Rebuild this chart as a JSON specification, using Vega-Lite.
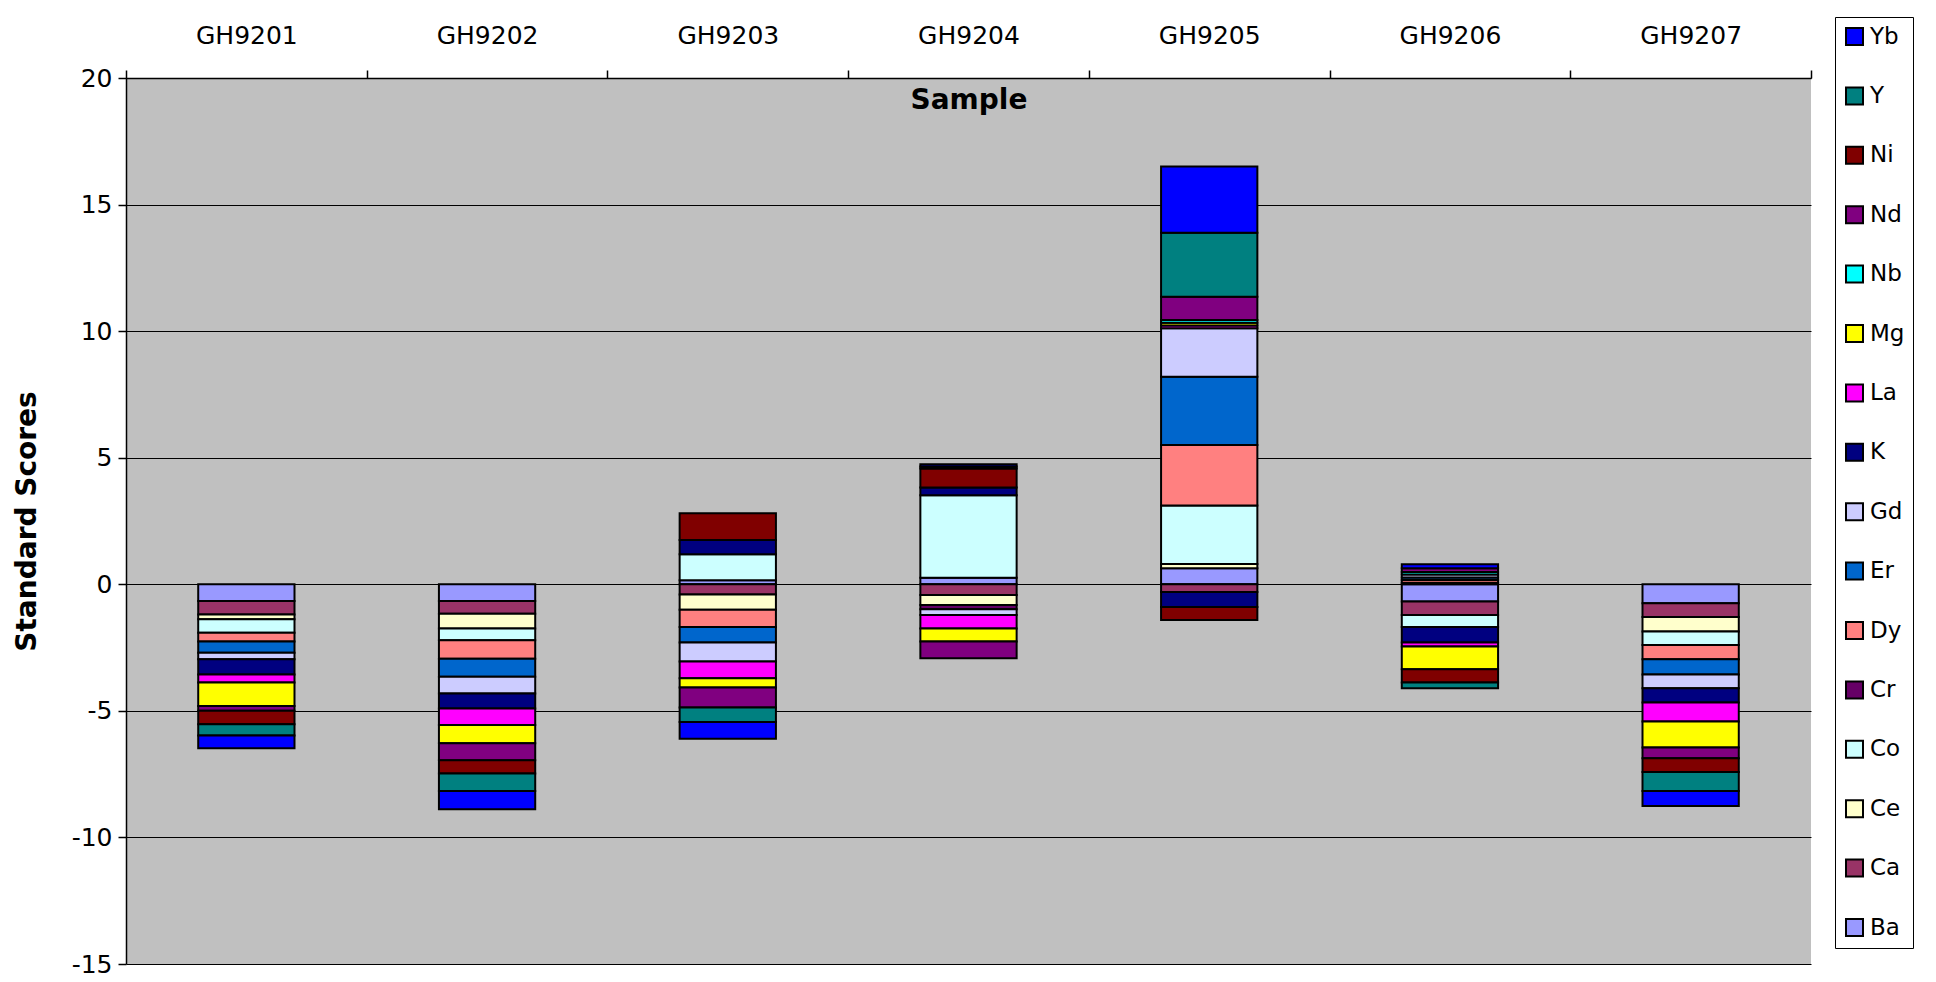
{
  "$schema": "https://vega.github.io/schema/vega-lite/v6.json",
  "width": 1685,
  "height": 886,
  "autosize": {"type": "none"},
  "padding": {"left": 126, "top": 78, "right": 125, "bottom": 18},
  "background": "white",
  "config": {
    "view": {"fill": "#C0C0C0", "stroke": null},
    "font": "DejaVu Sans",
    "axis": {"labelColor": "black", "titleColor": "black", "domainColor": "black", "tickColor": "black", "domainWidth": 1.5, "tickWidth": 1.5}
  },
  "data": {
    "values": [
      {"sample": "GH9201", "element": "Ba", "score": -0.66},
      {"sample": "GH9201", "element": "Ca", "score": -0.53},
      {"sample": "GH9201", "element": "Ce", "score": -0.19},
      {"sample": "GH9201", "element": "Co", "score": -0.53},
      {"sample": "GH9201", "element": "Dy", "score": -0.35},
      {"sample": "GH9201", "element": "Er", "score": -0.44},
      {"sample": "GH9201", "element": "Gd", "score": -0.26},
      {"sample": "GH9201", "element": "K", "score": -0.60},
      {"sample": "GH9201", "element": "La", "score": -0.32},
      {"sample": "GH9201", "element": "Mg", "score": -0.93},
      {"sample": "GH9201", "element": "Nd", "score": -0.19},
      {"sample": "GH9201", "element": "Ni", "score": -0.53},
      {"sample": "GH9201", "element": "Y", "score": -0.44},
      {"sample": "GH9201", "element": "Yb", "score": -0.51},

      {"sample": "GH9202", "element": "Ba", "score": -0.66},
      {"sample": "GH9202", "element": "Ca", "score": -0.50},
      {"sample": "GH9202", "element": "Ce", "score": -0.59},
      {"sample": "GH9202", "element": "Co", "score": -0.46},
      {"sample": "GH9202", "element": "Dy", "score": -0.73},
      {"sample": "GH9202", "element": "Er", "score": -0.71},
      {"sample": "GH9202", "element": "Gd", "score": -0.66},
      {"sample": "GH9202", "element": "K", "score": -0.60},
      {"sample": "GH9202", "element": "La", "score": -0.65},
      {"sample": "GH9202", "element": "Mg", "score": -0.72},
      {"sample": "GH9202", "element": "Nd", "score": -0.67},
      {"sample": "GH9202", "element": "Ni", "score": -0.52},
      {"sample": "GH9202", "element": "Y", "score": -0.70},
      {"sample": "GH9202", "element": "Yb", "score": -0.72},

      {"sample": "GH9203", "element": "Ba", "score": 0.16},
      {"sample": "GH9203", "element": "Ca", "score": -0.40},
      {"sample": "GH9203", "element": "Ce", "score": -0.61},
      {"sample": "GH9203", "element": "Co", "score": 1.03},
      {"sample": "GH9203", "element": "Dy", "score": -0.68},
      {"sample": "GH9203", "element": "Er", "score": -0.61},
      {"sample": "GH9203", "element": "Gd", "score": -0.75},
      {"sample": "GH9203", "element": "K", "score": 0.56},
      {"sample": "GH9203", "element": "La", "score": -0.66},
      {"sample": "GH9203", "element": "Mg", "score": -0.37},
      {"sample": "GH9203", "element": "Nd", "score": -0.79},
      {"sample": "GH9203", "element": "Ni", "score": 1.06},
      {"sample": "GH9203", "element": "Y", "score": -0.57},
      {"sample": "GH9203", "element": "Yb", "score": -0.66},

      {"sample": "GH9204", "element": "Ba", "score": 0.26},
      {"sample": "GH9204", "element": "Ca", "score": -0.42},
      {"sample": "GH9204", "element": "Ce", "score": -0.40},
      {"sample": "GH9204", "element": "Co", "score": 3.26},
      {"sample": "GH9204", "element": "Cr", "score": -0.17},
      {"sample": "GH9204", "element": "Gd", "score": -0.22},
      {"sample": "GH9204", "element": "K", "score": 0.30},
      {"sample": "GH9204", "element": "La", "score": -0.54},
      {"sample": "GH9204", "element": "Mg", "score": -0.51},
      {"sample": "GH9204", "element": "Nd", "score": -0.66},
      {"sample": "GH9204", "element": "Ni", "score": 0.75},
      {"sample": "GH9204", "element": "Y", "score": 0.08},
      {"sample": "GH9204", "element": "Yb", "score": 0.09},

      {"sample": "GH9205", "element": "Ba", "score": 0.63},
      {"sample": "GH9205", "element": "Ca", "score": -0.30},
      {"sample": "GH9205", "element": "Ce", "score": 0.17},
      {"sample": "GH9205", "element": "Co", "score": 2.31},
      {"sample": "GH9205", "element": "Dy", "score": 2.39},
      {"sample": "GH9205", "element": "Er", "score": 2.70},
      {"sample": "GH9205", "element": "Gd", "score": 1.91},
      {"sample": "GH9205", "element": "K", "score": -0.60},
      {"sample": "GH9205", "element": "La", "score": 0.11},
      {"sample": "GH9205", "element": "Mg", "score": 0.11},
      {"sample": "GH9205", "element": "Nb", "score": 0.11},
      {"sample": "GH9205", "element": "Nd", "score": 0.92},
      {"sample": "GH9205", "element": "Ni", "score": -0.51},
      {"sample": "GH9205", "element": "Y", "score": 2.53},
      {"sample": "GH9205", "element": "Yb", "score": 2.61},

      {"sample": "GH9206", "element": "Ba", "score": -0.68},
      {"sample": "GH9206", "element": "Ca", "score": -0.53},
      {"sample": "GH9206", "element": "Co", "score": -0.48},
      {"sample": "GH9206", "element": "Cr", "score": 0.06},
      {"sample": "GH9206", "element": "Dy", "score": 0.11},
      {"sample": "GH9206", "element": "Er", "score": 0.10},
      {"sample": "GH9206", "element": "Gd", "score": 0.12},
      {"sample": "GH9206", "element": "K", "score": -0.61},
      {"sample": "GH9206", "element": "La", "score": -0.16},
      {"sample": "GH9206", "element": "Mg", "score": -0.90},
      {"sample": "GH9206", "element": "Nb", "score": 0.10},
      {"sample": "GH9206", "element": "Nd", "score": 0.14},
      {"sample": "GH9206", "element": "Ni", "score": -0.52},
      {"sample": "GH9206", "element": "Y", "score": -0.23},
      {"sample": "GH9206", "element": "Yb", "score": 0.16},

      {"sample": "GH9207", "element": "Ba", "score": -0.75},
      {"sample": "GH9207", "element": "Ca", "score": -0.54},
      {"sample": "GH9207", "element": "Ce", "score": -0.58},
      {"sample": "GH9207", "element": "Co", "score": -0.53},
      {"sample": "GH9207", "element": "Dy", "score": -0.56},
      {"sample": "GH9207", "element": "Er", "score": -0.60},
      {"sample": "GH9207", "element": "Gd", "score": -0.55},
      {"sample": "GH9207", "element": "K", "score": -0.56},
      {"sample": "GH9207", "element": "La", "score": -0.75},
      {"sample": "GH9207", "element": "Mg", "score": -1.03},
      {"sample": "GH9207", "element": "Nd", "score": -0.42},
      {"sample": "GH9207", "element": "Ni", "score": -0.55},
      {"sample": "GH9207", "element": "Y", "score": -0.75},
      {"sample": "GH9207", "element": "Yb", "score": -0.59}
    ]
  },
  "mark": {"type": "bar", "stroke": "black", "strokeWidth": 2, "width": {"band": 0.4}},
  "encoding": {
    "x": {
      "field": "sample",
      "type": "nominal",
      "scale": {"paddingInner": 0, "paddingOuter": 0},
      "axis": {
        "orient": "top",
        "title": "Sample",
        "titleFontSize": 28,
        "titleFontWeight": "bold",
        "titleY": 22,
        "titleBaseline": "middle",
        "labelFontSize": 25,
        "labelAngle": 0,
        "labelPadding": 22,
        "tickBand": "extent",
        "tickSize": 8,
        "grid": false
      }
    },
    "y": {
      "field": "score",
      "type": "quantitative",
      "stack": "zero",
      "scale": {"domain": [-15, 20], "nice": false, "zero": false},
      "axis": {
        "title": "Standard Scores",
        "titleFontSize": 28,
        "titleFontWeight": "bold",
        "titleAngle": -90,
        "titleX": -99,
        "titleY": 443,
        "titleAlign": "center",
        "titleBaseline": "middle",
        "labelFontSize": 25,
        "labelPadding": 6,
        "tickSize": 8,
        "values": [-15, -10, -5, 0, 5, 10, 15, 20],
        "labelExpr": "replace(datum.label, '\u2212', '-')",
        "grid": true,
        "gridColor": "black",
        "gridWidth": 1
      }
    },
    "color": {
      "field": "element",
      "type": "nominal",
      "scale": {
        "domain": ["Yb", "Y", "Ni", "Nd", "Nb", "Mg", "La", "K", "Gd", "Er", "Dy", "Cr", "Co", "Ce", "Ca", "Ba"],
        "range": ["#0000FF", "#008080", "#800000", "#800080", "#00FFFF", "#FFFF00", "#FF00FF", "#000080", "#CCCCFF", "#0066CC", "#FF8080", "#660066", "#CCFFFF", "#FFFFCC", "#993366", "#9999FF"]
      },
      "legend": {
        "title": null,
        "orient": "none",
        "legendX": 1709,
        "legendY": -61,
        "symbolType": "square",
        "symbolSize": 289,
        "symbolStrokeColor": "black",
        "symbolStrokeWidth": 2,
        "symbolOpacity": 1,
        "labelFontSize": 23,
        "labelColor": "black",
        "labelOffset": 4,
        "rowPadding": 34.4,
        "padding": 8,
        "strokeColor": "black",
        "fillColor": "white"
      }
    },
    "order": {"field": "element", "sort": "ascending"}
  }
}
